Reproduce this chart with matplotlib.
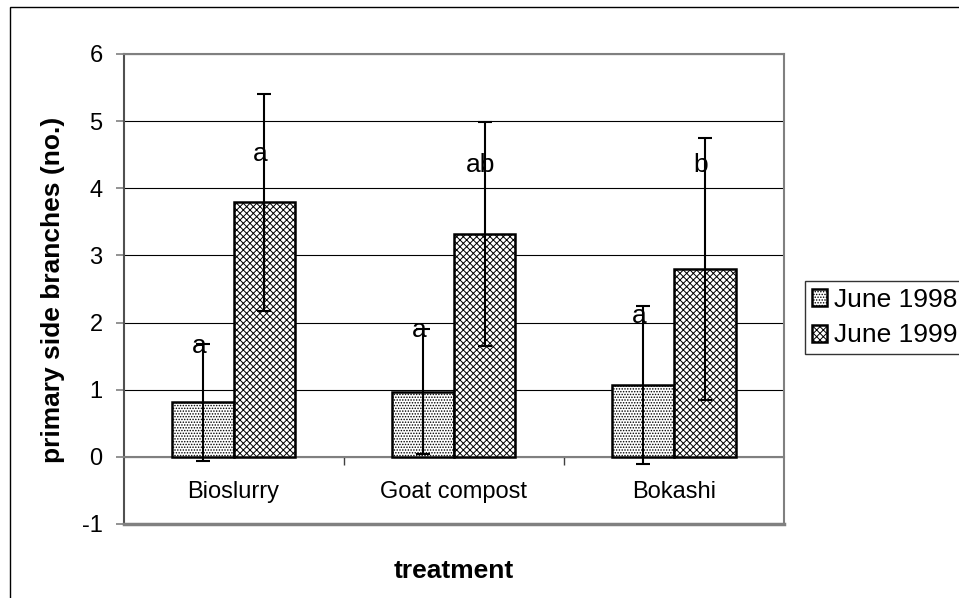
import numpy as np
import matplotlib
matplotlib.use("Agg")
import matplotlib.pyplot as plt
from matplotlib.patches import Rectangle

plt.rcParams["font.family"] = ["Liberation Sans", "DejaVu Sans"]
plt.rcParams["hatch.linewidth"] = 0.7

# ---------------------------
# Data
# ---------------------------
treatments = ["Bioslurry", "Goat compost", "Bokashi"]
series = ["June 1998", "June 1999"]
mean_1998 = [0.81, 0.97, 1.07]
mean_1999 = [3.79, 3.32, 2.80]
err_1998 = [0.87, 0.93, 1.18]
err_1999 = [1.62, 1.67, 1.95]
letters_1998 = ["a", "a", "a"]
letters_1999 = ["a", "ab", "b"]
letter_y_1998 = [1.54, 1.78, 1.99]
letter_y_1999 = [4.41, 4.24, 4.24]
yticks = [-1, 0, 1, 2, 3, 4, 5, 6]

W, H = 959, 598
fig = plt.figure(figsize=(W / 100, H / 100), dpi=100)
ax = fig.add_axes([123.5 / W, 1 - 524 / H, (784 - 123.5) / W, (524 - 54) / H])

x = np.arange(len(treatments))
bw = 0.28
ebar = dict(ecolor="black", elinewidth=1.5, capsize=4.7, capthick=1.5)

ax.bar(x - bw / 2, mean_1998, bw, yerr=err_1998, color="white", edgecolor="black",
       linewidth=1.8, hatch="......", label=series[0], error_kw=ebar, zorder=3)
ax.bar(x + bw / 2, mean_1999, bw, yerr=err_1999, color="white", edgecolor="black",
       linewidth=1.8, hatch="xxxxx", label=series[1], error_kw=ebar, zorder=3)

# significance letters
dx = -0.018
for i in range(len(treatments)):
    ax.text(x[i] - bw / 2 + dx, letter_y_1998[i], letters_1998[i], ha="center",
            va="baseline", fontsize=19, zorder=5)
    ax.text(x[i] + bw / 2 + dx, letter_y_1999[i], letters_1999[i], ha="center",
            va="baseline", fontsize=19, zorder=5)

ax.set_xlim(-0.5, 2.5)
ax.set_ylim(-1, 6)
ax.set_yticks(yticks)
ax.set_yticklabels([str(t) for t in yticks], fontsize=17)
ax.yaxis.grid(True, color="black", linewidth=0.8)
ax.set_axisbelow(True)

# x axis sits on y = 0, category separators as minor ticks
ax.spines["bottom"].set_position(("data", 0))
ax.set_xticks(x)
ax.set_xticklabels(treatments, fontsize=17)
ax.set_xticks([0.5, 1.5], minor=True)
ax.tick_params(axis="x", which="major", length=0, pad=17.5)
ax.tick_params(axis="x", which="minor", length=6, width=1, color="#404040", direction="out")
ax.tick_params(axis="y", length=6, width=1.2, color="#808080", pad=9)

for s in ["left", "right", "top", "bottom"]:
    ax.spines[s].set_color("#808080")
    ax.spines[s].set_linewidth(1.5)
ax.spines["left"].set_color("#505050")
ax.axhline(-1, color="#808080", linewidth=2.5, clip_on=False, zorder=4)

fig.text(53 / W, 1 - 290 / H, "primary side branches (no.)", rotation=90,
         ha="center", va="center", fontsize=19, fontweight="bold")
fig.text(453.7 / W, 1 - 571 / H, "treatment", ha="center", va="center",
         fontsize=19, fontweight="bold")

leg = ax.legend(loc="upper left", bbox_to_anchor=(805 / W, 1 - 281 / H),
                bbox_transform=fig.transFigure, fontsize=19, frameon=True,
                fancybox=False, edgecolor="black", borderpad=0.25,
                borderaxespad=0, handlelength=0.6, handleheight=0.6,
                handletextpad=0.25, labelspacing=0.45)
leg.get_frame().set_linewidth(1)

# outer chart frame (runs off the right and bottom)
fig.patches.append(Rectangle((10 / W, -0.1), 1.2, 1.1 - 7 / H, transform=fig.transFigure,
                             fill=False, edgecolor="black", linewidth=1))

fig.savefig("out.png", dpi=100)
